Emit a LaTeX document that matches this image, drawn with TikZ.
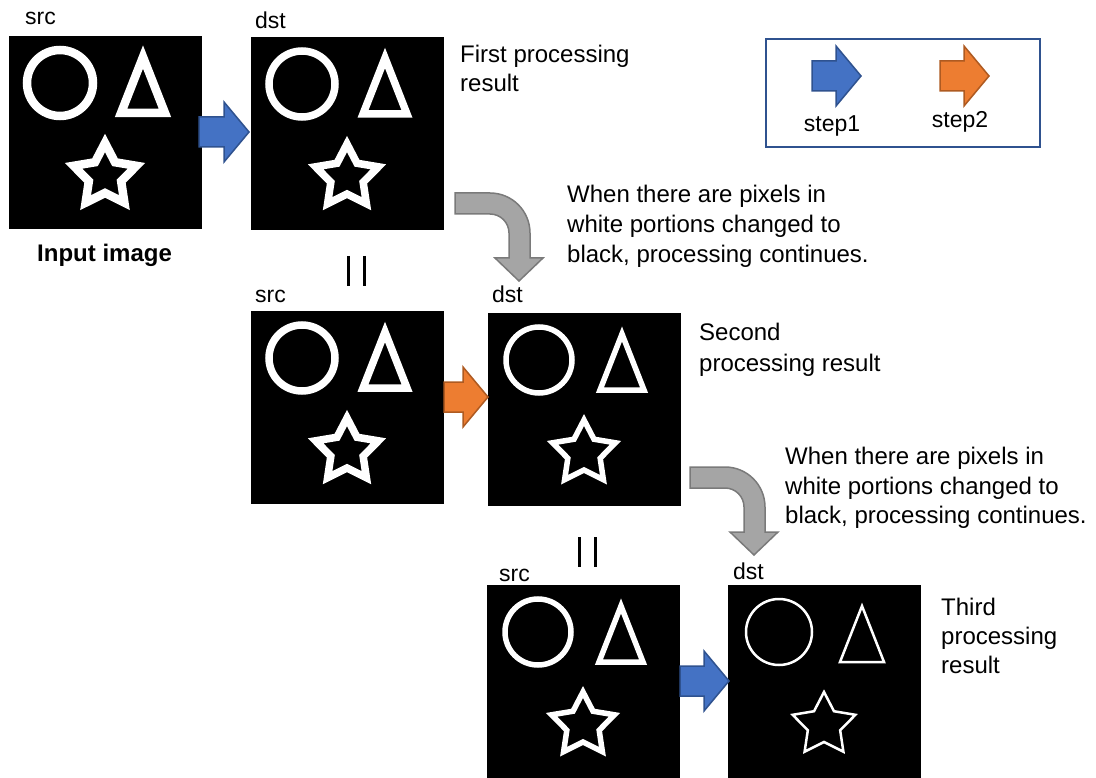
\documentclass[tikz,border=0pt]{standalone}
\usepackage{fontspec}
\setmainfont{Liberation Sans}
\definecolor{bluef}{HTML}{4472C4}
\definecolor{blued}{HTML}{2F528F}
\definecolor{orangef}{HTML}{ED7D31}
\definecolor{oranged}{HTML}{AE5A21}
\definecolor{grayf}{HTML}{A5A5A5}
\definecolor{grayd}{HTML}{7A7A7A}
\tikzset{
  lbl/.style={inner sep=0, anchor=base west, font=\fontsize{23}{28}\selectfont},
  desc/.style={inner sep=0, anchor=base west, font=\fontsize{24}{29}\selectfont},
  panel/.style={fill=black, draw=none, minimum width=193, minimum height=193, anchor=north west, inner sep=0, outer sep=0},
  bluearr/.style={fill=bluef, draw=blued, line width=1.5, line join=miter},
  orangearr/.style={fill=orangef, draw=oranged, line width=1.5, line join=miter},
  grayarr/.style={fill=grayf, draw=grayd, line width=1.5, line join=miter},
  eqbar/.style={line width=3.2},
  shp/.style={white, line join=miter},
}
\newcommand\figshapes[1]{%
  \draw[shp, line width=#1] (51,47) circle (33);
  \draw[shp, line width=#1] (134,21) -- (112,77) -- (156,77) -- cycle;
  \draw[shp, line width=#1, shift={(96,140)}] (-90:33) -- (-54:17) -- (-18:33) -- (18:17) -- (54:33) -- (90:17) -- (126:33) -- (162:17) -- (198:33) -- (234:17) -- cycle;
}
\newcommand\blockarrow[4]{%
  \draw[#4] (#1,#2-15) -- (#1+#3-25,#2-15) -- (#1+#3-25,#2-30) -- (#1+#3,#2) -- (#1+#3-25,#2+30) -- (#1+#3-25,#2+15) -- (#1,#2+15) -- cycle;
}
\newcommand\bentarrow[2]{%
  \draw[grayarr, shift={(#1,#2)}] (0,0) -- (35,0) arc[start angle=-90, end angle=0, radius=40] -- (75,65) -- (88,65) -- (64,88) -- (40,65) -- (54,65) -- (54,40) arc[start angle=0, end angle=-90, radius=19] -- (0,21) -- cycle;
}
\begin{document}
\begin{tikzpicture}[x=1pt, y=-1pt]
\useasboundingbox (0,0) rectangle (1096,778);

% panels
\node[panel] (p1) at (9,36) {};
\node[panel] (p2) at (251,37) {};
\node[panel] (p3) at (251,311) {};
\node[panel] (p4) at (488,313) {};
\node[panel] (p5) at (487,585) {};
\node[panel] (p6) at (728,585) {};

\begin{scope}[shift={(p1.north west)}] \figshapes{8.5} \end{scope}
\begin{scope}[shift={(p2.north west)}] \figshapes{7.5} \end{scope}
\begin{scope}[shift={(p3.north west)}] \figshapes{7.5} \end{scope}
\begin{scope}[shift={(p4.north west)}] \figshapes{5.5} \end{scope}
\begin{scope}[shift={(p5.north west)}] \figshapes{5.5} \end{scope}
\begin{scope}[shift={(p6.north west)}] \figshapes{2.5} \end{scope}

% step arrows
\blockarrow{199}{132}{50}{bluearr}
\blockarrow{444}{397}{44}{orangearr}
\blockarrow{680}{681}{49}{bluearr}

% bent arrows
\bentarrow{455}{193}
\bentarrow{690}{467}

% equal bars
\draw[eqbar] (348.5,256) -- (348.5,286);
\draw[eqbar] (364.5,256) -- (364.5,286);
\draw[eqbar] (579.5,537) -- (579.5,567);
\draw[eqbar] (595.5,537) -- (595.5,567);

% legend
\node[draw=blued, line width=2, minimum width=274, minimum height=108, anchor=north west, inner sep=0] (legend) at (765,38) {};
\blockarrow{812}{76}{49}{bluearr}
\blockarrow{940}{76}{49}{orangearr}
\node[lbl, anchor=base] (s1) at (832,132) {step1};
\node[lbl, anchor=base] (s2) at (960,128) {step2};

% labels
\node[lbl] (src1) at (25,25) {src};
\node[lbl] (dst1) at (255,29) {dst};
\node[lbl, font=\fontsize{24}{29}\selectfont\bfseries] (inp) at (37,262) {Input image};
\node[desc] (r1a) at (460,63) {First processing};
\node[desc] (r1b) at (460,92) {result};
\node[desc] (c1a) at (567,203) {When there are pixels in};
\node[desc] (c1b) at (567,233) {white portions changed to};
\node[desc] (c1c) at (567,263) {black, processing continues.};
\node[lbl] (src2) at (255,303) {src};
\node[lbl] (dst2) at (492,303) {dst};
\node[desc] (r2a) at (699,341) {Second};
\node[desc] (r2b) at (699,371) {processing result};
\node[desc] (c2a) at (785,464) {When there are pixels in};
\node[desc] (c2b) at (785,494) {white portions changed to};
\node[desc] (c2c) at (785,523) {black, processing continues.};
\node[lbl] (src3) at (499,581) {src};
\node[lbl] (dst3) at (733,579) {dst};
\node[desc] (r3a) at (941,615) {Third};
\node[desc] (r3b) at (941,644) {processing};
\node[desc] (r3c) at (941,673) {result};
\end{tikzpicture}
\end{document}
